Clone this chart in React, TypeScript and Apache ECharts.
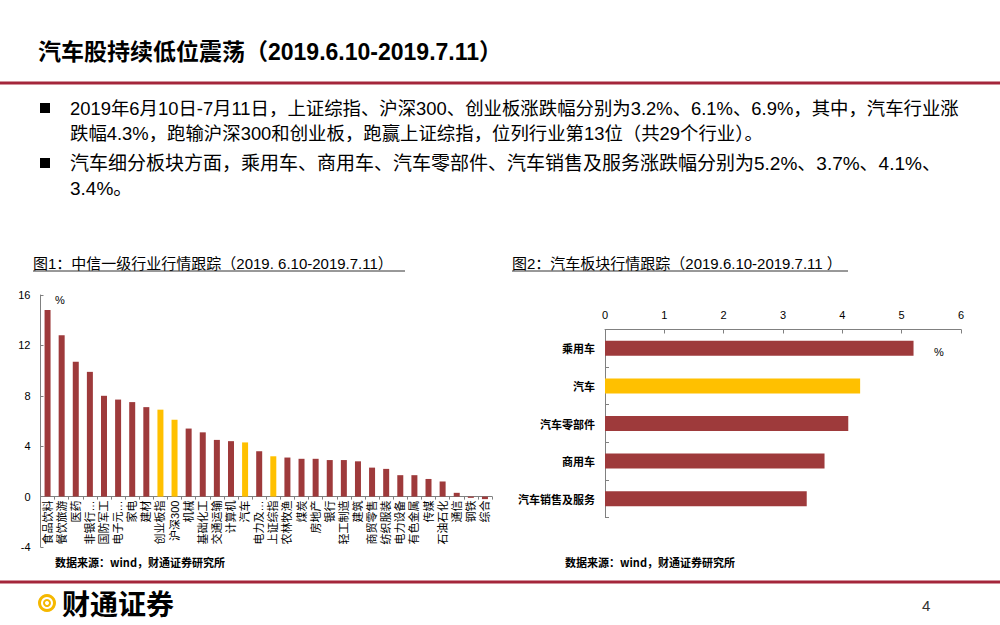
import React, { useEffect, useRef } from "react";
import * as echarts from "echarts";

// ---- data ----
const industries = [
  "食品饮料", "餐饮旅游", "医药", "非银行金融", "国防军工", "电子元器件", "家电", "建材",
  "创业板指", "沪深300", "机械", "基础化工", "交通运输", "计算机", "汽车", "电力及公用事业",
  "上证综指", "农林牧渔", "煤炭", "房地产", "银行", "轻工制造", "建筑", "商贸零售",
  "纺织服装", "电力设备", "有色金属", "传媒", "石油石化", "通信", "钢铁", "综合",
];
const industryChanges = [
  14.8, 12.8, 10.7, 9.9, 8.0, 7.7, 7.5, 7.1,
  6.9, 6.1, 5.4, 5.1, 4.5, 4.4, 4.3, 3.6,
  3.2, 3.1, 3.0, 3.0, 2.9, 2.9, 2.8, 2.3,
  2.2, 1.7, 1.7, 1.4, 1.2, 0.3, -0.1, -0.2,
];
const industryHighlights = ["创业板指", "沪深300", "汽车", "上证综指"];
const leftTicks = { min: -4, max: 16, interval: 4 };

const autoSectors = ["乘用车", "汽车", "汽车零部件", "商用车", "汽车销售及服务"];
const autoChanges = [5.2, 4.3, 4.1, 3.7, 3.4];
const autoHighlights = ["汽车"];
const rightTicks = { min: 0, max: 6, interval: 1 };

const pageTitle = "汽车股持续低位震荡（2019.6.10-2019.7.11）";
const bulletLines = [
  "2019年6月10日-7月11日，上证综指、沪深300、创业板涨跌幅分别为3.2%、6.1%、6.9%，其中，汽车行业涨",
  "跌幅4.3%，跑输沪深300和创业板，跑赢上证综指，位列行业第13位（共29个行业）。",
  "汽车细分板块方面，乘用车、商用车、汽车零部件、汽车销售及服务涨跌幅分别为5.2%、3.7%、4.1%、",
  "3.4%。",
];
const fig1Title = "图1：中信一级行业行情跟踪（2019. 6.10-2019.7.11）";
const fig2Title = "图2：汽车板块行情跟踪（2019.6.10-2019.7.11 ）";
const sourceText = "数据来源：wind，财通证券研究所";
const brandName = "财通证券";
const pageNumber = "4";

// ---- styles ----
const RED = "#9E3A3B";
const YELLOW = "#FFC000";
const LINE_RED = "#A4263B";
const AXIS = "#808080";
const CJK = "'Noto Sans CJK SC', sans-serif";
const MIX = "'Liberation Sans', 'Noto Sans CJK SC', sans-serif";

function txt(x: number, y: number, text: string, fontSize: number, extra: any = {}) {
  return {
    type: "text",
    x,
    y,
    silent: true,
    style: {
      text,
      fontSize,
      fontFamily: MIX,
      fill: "#000",
      verticalAlign: "middle",
      align: "left",
      ...extra,
    },
  };
}

function hline(x1: number, x2: number, y: number, w: number, color: string) {
  return {
    type: "line",
    silent: true,
    shape: { x1, y1: y, x2, y2: y },
    style: { stroke: color, lineWidth: w },
  };
}

// visual width: CJK = 1, ASCII = 0.5
function labelWidth(s: string) {
  let w = 0;
  for (const ch of s) w += ch.charCodeAt(0) < 128 ? 0.5 : 1;
  return w;
}

export default function App() {
  const ref = useRef<HTMLDivElement>(null);
  useEffect(() => {
    const chart = echarts.init(ref.current!, null, { renderer: "svg" });
    const bulletYs = [108, 133, 163, 188];
    const bulletSizes = [18.4, 18.4, 19, 19];
    const graphics: any[] = [
      txt(38, 52, pageTitle, 23, { fontWeight: "bold" }),
      hline(0, 1000, 83, 3, LINE_RED),
      { type: "rect", silent: true, shape: { x: 40, y: 103, width: 10, height: 10 }, style: { fill: "#000" } },
      { type: "rect", silent: true, shape: { x: 40, y: 158, width: 10, height: 10 }, style: { fill: "#000" } },
      ...bulletLines.map((l, i) => txt(70, bulletYs[i], l, bulletSizes[i])),
      txt(33, 263, fig1Title, 15),
      hline(33, 405, 271, 1, "#333"),
      txt(512, 263, fig2Title, 15),
      hline(512, 848, 271, 1, "#333"),
      txt(55, 300, "%", 11),
      txt(934, 352, "%", 11),
      txt(55, 562, sourceText, 11, { fontWeight: "bold", fontFamily: CJK }),
      txt(565, 562, sourceText, 11, { fontWeight: "bold", fontFamily: CJK }),
      hline(0, 1000, 582, 3, LINE_RED),
      {
        type: "ring",
        silent: true,
        shape: { cx: 47, cy: 603, r: 9, r0: 6 },
        style: { fill: "#F5B800" },
      },
      {
        type: "ring",
        silent: true,
        shape: { cx: 47, cy: 603, r: 4, r0: 2 },
        style: { fill: "#F5B800" },
      },
      txt(62, 603, brandName, 28, { fontWeight: "bold", fontFamily: CJK }),
      txt(922, 605, pageNumber, 15, { fill: "#333" }),
    ];

    const leftGridH = 252;
    const zeroOffset = -(leftGridH * (0 - leftTicks.min)) / (leftTicks.max - leftTicks.min);

    chart.setOption({
      animation: false,
      backgroundColor: "#fff",
      textStyle: { fontFamily: MIX },
      grid: [
        { left: 40.5, top: 295, width: 451.5, height: leftGridH },
        { left: 605, top: 329.5, width: 356, height: 188 },
      ],
      xAxis: [
        {
          type: "category",
          gridIndex: 0,
          data: industries,
          offset: zeroOffset,
          axisLine: { onZero: false, lineStyle: { color: AXIS } },
          axisTick: { show: true, interval: 0, length: 3, lineStyle: { color: AXIS } },
          axisLabel: {
            interval: 0,
            rotate: 90,
            fontSize: 11,
            fontFamily: MIX,
            color: "#000",
            margin: 4,
            formatter: (v: string) => (labelWidth(v) > 4 ? v.slice(0, 3) + "…" : v),
          },
        },
        {
          type: "value",
          gridIndex: 1,
          position: "top",
          min: rightTicks.min,
          max: rightTicks.max,
          interval: rightTicks.interval,
          axisLine: { show: true, lineStyle: { color: AXIS } },
          axisTick: { show: true, inside: true, length: 4, lineStyle: { color: AXIS } },
          axisLabel: { fontSize: 11, color: "#000", margin: 9 },
          splitLine: { show: false },
        },
      ],
      yAxis: [
        {
          type: "value",
          gridIndex: 0,
          min: leftTicks.min,
          max: leftTicks.max,
          interval: leftTicks.interval,
          axisLine: { show: true, lineStyle: { color: AXIS } },
          axisTick: { show: true, inside: true, length: 3, lineStyle: { color: AXIS } },
          axisLabel: { fontSize: 11, color: "#000", margin: 10 },
          splitLine: { show: false },
        },
        {
          type: "category",
          gridIndex: 1,
          inverse: true,
          data: autoSectors,
          axisLine: { show: true, lineStyle: { color: AXIS } },
          axisTick: { show: true, inside: true, length: 4, lineStyle: { color: AXIS } },
          axisLabel: { fontSize: 11, color: "#000", margin: 10, fontWeight: "bold", fontFamily: CJK },
        },
      ],
      series: [
        {
          type: "bar",
          xAxisIndex: 0,
          yAxisIndex: 0,
          barWidth: 6,
          data: industryChanges.map((v, i) => ({
            value: v,
            itemStyle: { color: industryHighlights.includes(industries[i]) ? YELLOW : RED },
          })),
        },
        {
          type: "bar",
          xAxisIndex: 1,
          yAxisIndex: 1,
          barWidth: 15,
          data: autoChanges.map((v, i) => ({
            value: v,
            itemStyle: { color: autoHighlights.includes(autoSectors[i]) ? YELLOW : RED },
          })),
        },
      ],
      graphic: graphics,
    });
    return () => chart.dispose();
  }, []);
  return (
    <div
      ref={ref}
      style={{ position: "fixed", left: 0, top: 0, width: 1000, height: 625, background: "#fff" }}
    />
  );
}
